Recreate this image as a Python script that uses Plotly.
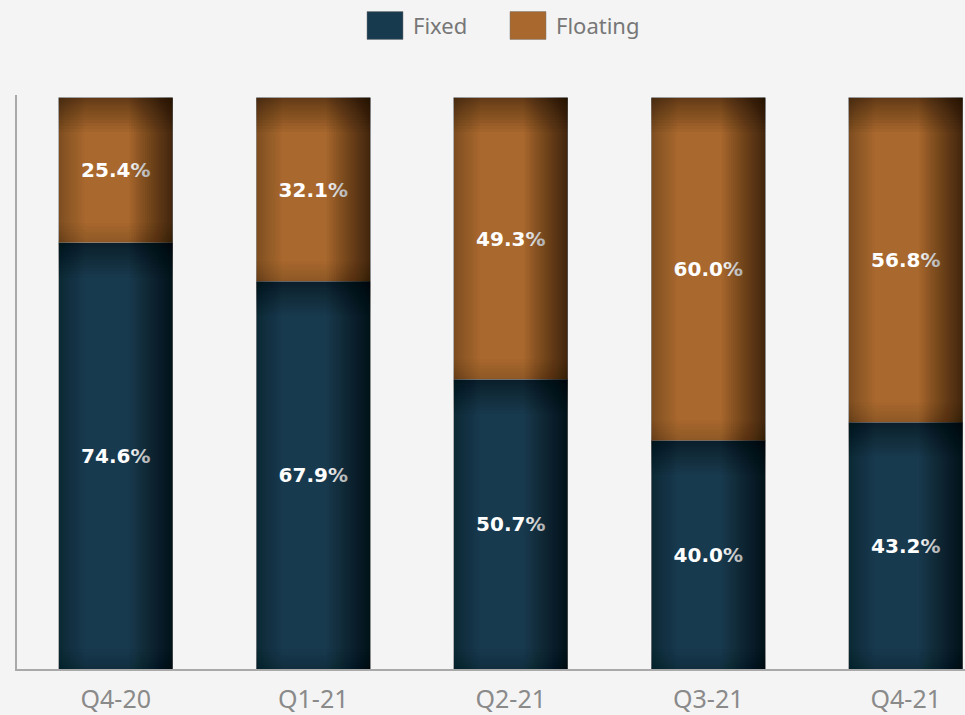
import plotly.graph_objects as go

quarters = ["Q4-20", "Q1-21", "Q2-21", "Q3-21", "Q4-21"]
fixed = [74.6, 67.9, 50.7, 40.0, 43.2]
floating = [25.4, 32.1, 49.3, 60.0, 56.8]

FIXED_COLOR = "#183a4e"
FLOAT_COLOR = "#a9682d"
BG = "#f4f4f4"
BAR_FRAC = 0.577
HALF = BAR_FRAC / 2

fig = go.Figure()
for name, vals, col in [("Fixed", fixed, FIXED_COLOR), ("Floating", floating, FLOAT_COLOR)]:
    fig.add_trace(go.Bar(
        x=quarters, y=vals, name=name,
        marker=dict(color=col, line=dict(color="rgba(170,170,170,0.7)", width=1)),
        text=[f"{v:.1f}%" for v in vals],
        textposition="inside", insidetextanchor="middle",
        textfont=dict(color="white", size=20, family="DejaVu Sans", weight="bold"),
        textangle=0, showlegend=False,
    ))

# vignette shading on each bar segment (stacked translucent strips)
shapes = []
def strips(x0, x1, y0, y1, side, depth, edge_alpha, n=24):
    a = 1 - (1 - edge_alpha) ** (1.0 / n)
    for k in range(1, n + 1):
        d = depth * (k / n) ** 1.3
        if side == "right":
            r = (x1 - d, x1, y0, y1)
        elif side == "left":
            r = (x0, x0 + d, y0, y1)
        elif side == "top":
            r = (x0, x1, y1 - d, y1)
        else:
            r = (x0, x1, y0, y0 + d)
        shapes.append(dict(type="rect", xref="x", yref="y", x0=r[0], x1=r[1], y0=r[2], y1=r[3],
                           fillcolor=f"rgba(0,0,0,{a:.4f})", line=dict(width=0), layer="above"))

for i in range(len(quarters)):
    x0, x1 = i - HALF, i + HALF
    segs = [(0, fixed[i]), (fixed[i], fixed[i] + floating[i])]
    for y0, y1 in segs:
        strips(x0, x1, y0, y1, "right", 0.22, 0.58)
        strips(x0, x1, y0, y1, "left", 0.13, 0.25, n=14)
        strips(x0, x1, y0, y1, "top", 6.0, 0.38, n=14)
        strips(x0, x1, y0, y1, "bottom", 3.5, 0.15, n=8)

# legend drawn as swatches + labels
PW, PH, ML, MB = 948, 578, 17, 42
legend_items = [("Fixed", FIXED_COLOR, 367), ("Floating", FLOAT_COLOR, 510)]
annotations = []
for label, col, px in legend_items:
    shapes.append(dict(type="rect", xref="paper", yref="paper",
                       x0=(px - ML) / PW, x1=(px + 36 - ML) / PW,
                       y0=(715 - MB - 39) / PH, y1=(715 - MB - 11) / PH,
                       fillcolor=col, line=dict(color="rgba(120,120,120,0.5)", width=1), layer="above"))
    annotations.append(dict(xref="paper", yref="paper", x=(px + 44 - ML) / PW, y=(715 - MB - 25) / PH,
                            text=label, showarrow=False, xanchor="left", yanchor="middle",
                            font=dict(size=22, color="#777777", family="Noto Sans")))

fig.update_layout(
    barmode="stack",
    bargap=1 - BAR_FRAC,
    width=965, height=715,
    margin=dict(l=ML, r=0, t=95, b=MB),
    paper_bgcolor=BG, plot_bgcolor=BG,
    shapes=shapes, annotations=annotations,
    showlegend=False,
    xaxis=dict(range=[-0.5, 4.3], showline=True, linecolor="#a9a9a9", linewidth=1.5,
               ticks="", showgrid=False, ticklabelstandoff=7,
               tickfont=dict(size=25, color="#8a8a8a", family="Noto Sans")),
    yaxis=dict(range=[0, 100.5], showline=True, linecolor="#a9a9a9", linewidth=1.5,
               showticklabels=False, ticks="", showgrid=False, zeroline=False),
)

fig.write_html("out.html")
